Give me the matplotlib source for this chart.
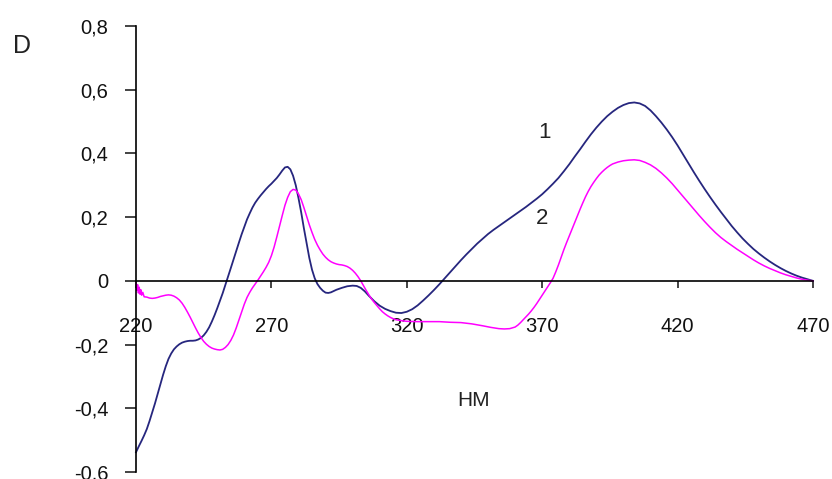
import matplotlib
matplotlib.use("Agg")
import matplotlib.pyplot as plt
from matplotlib.ticker import FuncFormatter, FixedLocator

plt.rcParams['font.family'] = ['Liberation Sans', 'DejaVu Sans']

# Curve 1 (navy): wavelength (nm) and optical density D
wl1 = [220, 221, 222, 223, 224, 225, 226, 227, 228, 229, 230, 231, 232, 233, 234, 235,
       236, 237, 238, 239, 240, 241, 242, 243, 244, 245, 246, 247, 248, 249, 250, 251,
       252, 253, 254, 255, 256, 257, 258, 259, 260, 261, 262, 263, 264, 265, 266, 267,
       268, 269, 270, 271, 272, 273, 274, 275, 276, 277, 278, 279, 280, 281, 282, 283,
       284, 285, 286, 287, 288, 289, 290, 291, 292, 293, 294, 296, 298, 300, 301.5, 303,
       304.5, 306, 308, 310, 312, 314, 316, 318, 320, 322, 324, 326, 328, 330, 332, 334,
       336, 338, 340, 342, 344, 346, 348, 350, 352, 354, 356, 358, 360, 362, 364, 366,
       368, 370, 372, 374, 376, 378, 380, 382, 384, 386, 388, 390, 392, 394, 396, 398,
       400, 402, 404, 406, 408, 410, 412, 414, 416, 418, 420, 422, 424, 426, 428, 430,
       432, 434, 436, 438, 440, 442, 444, 446, 448, 450, 452, 454, 456, 458, 460, 462,
       464, 466, 468, 470]
d1 = [-0.538, -0.52, -0.503, -0.485, -0.465, -0.44, -0.413, -0.385, -0.355, -0.325,
      -0.295, -0.268, -0.245, -0.228, -0.215, -0.206, -0.199, -0.194, -0.191, -0.189,
      -0.188, -0.188, -0.187, -0.184, -0.179, -0.171, -0.16, -0.146, -0.128, -0.108,
      -0.086, -0.063, -0.039, -0.013, 0.013, 0.04, 0.067, 0.094, 0.12, 0.146, 0.17, 0.193,
      0.212, 0.23, 0.245, 0.257, 0.268, 0.278, 0.288, 0.297, 0.305, 0.314, 0.323, 0.334,
      0.346, 0.356, 0.358, 0.35, 0.33, 0.3, 0.26, 0.215, 0.165, 0.118, 0.072, 0.035, 0.008,
      -0.01, -0.022, -0.031, -0.037, -0.038, -0.036, -0.032, -0.028, -0.022, -0.017,
      -0.015, -0.016, -0.022, -0.033, -0.047, -0.064, -0.078, -0.088, -0.095, -0.1, -0.101,
      -0.097, -0.089, -0.077, -0.062, -0.046, -0.029, -0.011, 0.008, 0.027, 0.046, 0.065,
      0.083, 0.1, 0.117, 0.132, 0.147, 0.16, 0.172, 0.184, 0.196, 0.208, 0.22, 0.232,
      0.245, 0.258, 0.272, 0.288, 0.305, 0.323, 0.344, 0.366, 0.39, 0.413, 0.437, 0.46,
      0.481, 0.5, 0.517, 0.531, 0.543, 0.552, 0.558, 0.56, 0.557, 0.549, 0.535, 0.517,
      0.497, 0.475, 0.451, 0.425, 0.397, 0.369, 0.341, 0.314, 0.288, 0.263, 0.239, 0.216,
      0.194, 0.172, 0.152, 0.133, 0.116, 0.1, 0.086, 0.073, 0.061, 0.05, 0.04, 0.031,
      0.023, 0.016, 0.01, 0.005, 0.0]

# Curve 2 (magenta)
wl2 = [220, 220.3, 220.6, 220.9, 221.2, 221.5, 221.8, 222.1, 222.5, 223, 224, 225, 226,
       227, 228, 229, 230, 231, 232, 233, 234, 235, 236, 237, 238, 239, 240, 241, 242,
       243, 244, 245, 246, 247, 248, 249, 250, 251, 252, 253, 254, 255, 256, 257, 258,
       259, 260, 261, 262, 263, 264, 265, 266, 267, 268, 269, 270, 271, 272, 273, 274,
       275, 276, 277, 278, 279, 280, 281, 282, 283, 284, 285, 286, 287, 288, 289, 290,
       291, 292, 293, 294, 295, 296, 297, 298, 299, 300, 301, 302, 303, 304, 305, 306,
       307, 308, 309, 310, 311, 312, 313, 314, 315, 316, 318, 320, 324, 328, 332, 336,
       340, 344, 348, 351, 354, 356, 358, 360, 361, 362, 363, 364, 365, 366, 367, 368,
       369, 370, 371, 372, 373, 374, 375, 376, 377, 378, 379, 380, 381, 382, 383, 384,
       385, 386, 387, 388, 389, 390, 391, 392, 393, 394, 395, 396, 398, 400, 402, 404,
       406, 408, 410, 412, 414, 416, 418, 420, 422, 424, 426, 428, 430, 432, 434, 436,
       438, 440, 442, 444, 446, 448, 450, 452, 454, 456, 458, 460, 462, 464, 466, 468, 470]
d2 = [-0.005, -0.03, -0.012, -0.038, -0.02, -0.042, -0.028, -0.045, -0.036, -0.05, -0.051,
      -0.054, -0.055, -0.054, -0.052, -0.049, -0.047, -0.045, -0.044, -0.045, -0.048,
      -0.053, -0.06, -0.07, -0.083, -0.098, -0.114, -0.131, -0.148, -0.164, -0.178, -0.19,
      -0.199, -0.206, -0.211, -0.214, -0.216, -0.217, -0.215, -0.209, -0.2, -0.187, -0.17,
      -0.148, -0.123, -0.097, -0.073, -0.052, -0.036, -0.022, -0.01, 0.002, 0.015, 0.028,
      0.042, 0.058, 0.079, 0.106, 0.138, 0.172, 0.205, 0.237, 0.262, 0.28, 0.287, 0.285,
      0.273, 0.255, 0.23, 0.203, 0.176, 0.152, 0.13, 0.112, 0.097, 0.084, 0.074, 0.066,
      0.06, 0.056, 0.053, 0.051, 0.05, 0.048, 0.045, 0.04, 0.033, 0.024, 0.013, 0.0,
      -0.015, -0.03, -0.044, -0.057, -0.068, -0.078, -0.088, -0.097, -0.104, -0.11, -0.115,
      -0.119, -0.122, -0.125, -0.127, -0.128, -0.128, -0.128, -0.13, -0.131, -0.135,
      -0.141, -0.146, -0.15, -0.151, -0.15, -0.145, -0.139, -0.131, -0.122, -0.113, -0.104,
      -0.094, -0.083, -0.071, -0.058, -0.045, -0.032, -0.019, -0.006, 0.008, 0.028, 0.05,
      0.074, 0.098, 0.12, 0.141, 0.162, 0.183, 0.204, 0.225, 0.245, 0.264, 0.281, 0.296,
      0.309, 0.321, 0.332, 0.341, 0.349, 0.356, 0.362, 0.367, 0.373, 0.377, 0.379, 0.38,
      0.378, 0.372, 0.364, 0.353, 0.339, 0.323, 0.305, 0.285, 0.265, 0.245, 0.225, 0.205,
      0.186, 0.168, 0.151, 0.136, 0.123, 0.111, 0.099, 0.088, 0.077, 0.066, 0.056, 0.047,
      0.039, 0.032, 0.025, 0.019, 0.014, 0.009, 0.005, 0.002, 0.0]

x_ticks = [220, 270, 320, 370, 420, 470]
y_ticks = [-0.6, -0.4, -0.2, 0, 0.2, 0.4, 0.6, 0.8]

fig = plt.figure(figsize=(8.32, 4.79), dpi=100)
ax = fig.add_axes([136/832, 1 - 472/479, (813-136)/832, (472-26)/479])

ax.plot(wl1, d1, color='#26267e', lw=1.3, clip_on=False, solid_joinstyle='round')
ax.plot(wl2, d2, color='#ff00ff', lw=1.1, clip_on=False, solid_joinstyle='round')

ax.set_xlim(220, 470)
ax.set_ylim(-0.6, 0.8)

for s in ['top', 'right']:
    ax.spines[s].set_visible(False)
ax.spines['bottom'].set_position(('data', 0))
ax.spines['bottom'].set_linewidth(1.2)
ax.spines['left'].set_linewidth(1.2)

ax.xaxis.set_major_locator(FixedLocator(x_ticks))
ax.yaxis.set_major_locator(FixedLocator(y_ticks))

def fmt(v, pos):
    if abs(v) < 1e-9:
        return "0"
    return f"{v:.1f}".replace('.', ',')

ax.yaxis.set_major_formatter(FuncFormatter(fmt))
ax.xaxis.set_major_formatter(FuncFormatter(lambda v, p: f"{int(round(v))}"))

ax.tick_params(axis='x', direction='out', length=5, width=1.1, pad=21, labelsize=14.5, colors='#111111')
ax.tick_params(axis='y', direction='out', length=8, width=1.1, pad=12, labelsize=14.5, colors='#111111')

fig.text(22/832, 1 - 46/479, "D", fontsize=18, ha='center', va='center', color='#222222')
fig.text(474/832, 1 - 401/479, "HM", fontsize=15, ha='center', va='center', color='#222222')
fig.text(545/832, 1 - 132/479, "1", fontsize=16, ha='center', va='center', color='#222222')
fig.text(542/832, 1 - 219/479, "2", fontsize=16, ha='center', va='center', color='#222222')

fig.savefig("out.png", dpi=100)
